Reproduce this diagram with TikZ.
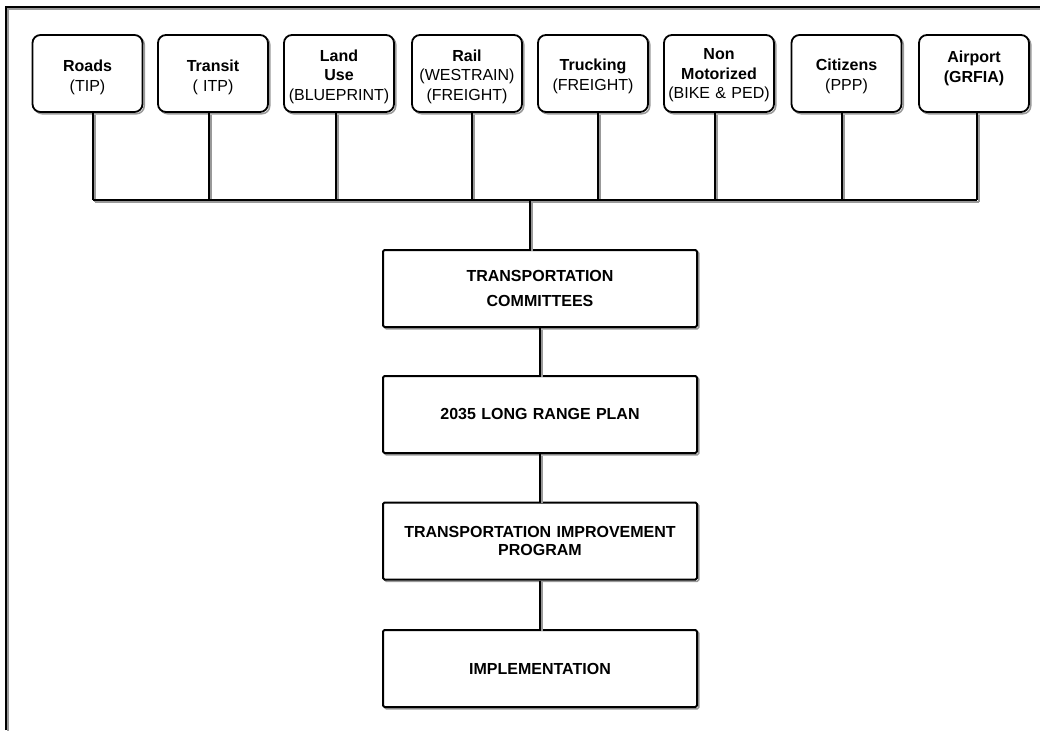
\documentclass[tikz,border=0pt]{standalone}
\usepackage{fontspec}
\setmainfont{Liberation Sans}
% move a centred block vertically without changing its declared size
\newcommand{\shiftlines}[2]{\raisebox{#1}[\height][\depth]{\parbox{108pt}{\centering #2}}}
\begin{document}
\begin{tikzpicture}[x=1pt,y=-1pt,
  shade line/.style={preaction={draw=black!40,line width=1.5pt,
      transform canvas={shift={(1.8pt,-1.8pt)}}}},
  conn/.style={draw=black,line width=1.8pt,shade line},
  source/.style={draw=black,line width=1.8pt,rounded corners=8pt,fill=white,
      minimum width=110pt,minimum height=77pt,inner sep=0pt,text width=108pt,
      align=center,font=\fontsize{16}{19.5}\selectfont,shade line},
  stage/.style={draw=black,line width=2pt,rounded corners=1.5pt,fill=white,
      minimum width=314pt,minimum height=77pt,inner sep=0pt,text width=312pt,
      align=center,font=\bfseries\fontsize{16}{18.5}\selectfont,shade line}
]
\useasboundingbox (0,0) rectangle (1040,730);

% outer frame (left and top edges only)
\coordinate (frameB) at (6,730);
\coordinate (frameC) at (6,7);
\coordinate (frameR) at (1040,7);
\draw[conn] (frameB) -- (frameC) -- (frameR);

% source boxes
\node[source] (roads)    at (87.5,73.5) {\shiftlines{-4pt}{\textbf{Roads}\\(TIP)}};
\node[source] (transit)  at (213,73.5)  {\shiftlines{-4pt}{\textbf{Transit}\\( ITP)}};
\node[source] (landuse)  at (339,73.5)  {\shiftlines{-3pt}{\textbf{Land}\\\textbf{Use}\\(BLUEPRINT)}};
\node[source] (rail)     at (467,73.5)  {\shiftlines{-3pt}{\textbf{Rail}\\(WESTRAIN)\\(FREIGHT)}};
\node[source] (trucking) at (593,73.5)  {\shiftlines{-3pt}{\textbf{Trucking}\\(FREIGHT)}};
\node[source] (nonmotor) at (719,73.5)  {\shiftlines{-2pt}{\textbf{Non}\\\textbf{Motorized}\\(BIKE \& PED)}};
\node[source] (citizens) at (846.5,73.5){\shiftlines{-3pt}{\textbf{Citizens}\\(PPP)}};
\node[source] (airport)  at (974,73.5)  {\shiftlines{5pt}{\textbf{Airport}\\\textbf{(GRFIA)}}};

% planning stages
\node[stage] (committees) at (540,288.5) {TRANSPORTATION\\[6pt]COMMITTEES};
\node[stage] (lrp)        at (540,414.5) {2035 LONG RANGE PLAN};
\node[stage] (tip)        at (540,541)   {TRANSPORTATION IMPROVEMENT\\PROGRAM};
\node[stage] (impl)       at (540,668.5) {IMPLEMENTATION};

% collecting bus
\coordinate (busL) at (93,200);
\coordinate (busR) at (977,200);

\draw[conn] ([xshift=5.5pt]roads.south)    -- ([xshift=5.5pt]roads.south |- busL);
\draw[conn] ([xshift=-4pt]transit.south)   -- ([xshift=-4pt]transit.south |- busL);
\draw[conn] ([xshift=-3pt]landuse.south)   -- ([xshift=-3pt]landuse.south |- busL);
\draw[conn] ([xshift=5pt]rail.south)       -- ([xshift=5pt]rail.south |- busL);
\draw[conn] ([xshift=5pt]trucking.south)   -- ([xshift=5pt]trucking.south |- busL);
\draw[conn] ([xshift=-4pt]nonmotor.south)  -- ([xshift=-4pt]nonmotor.south |- busL);
\draw[conn] ([xshift=-4.5pt]citizens.south)-- ([xshift=-4.5pt]citizens.south |- busL);
\draw[conn] ([xshift=3pt]airport.south)    -- ([xshift=3pt]airport.south |- busL);
\draw[conn] (busL) -- (busR);
\draw[conn] ([xshift=-10pt]committees.north) -- ([xshift=-10pt]committees.north |- busL);

% stage links
\draw[conn] (committees.south) -- (lrp.north);
\draw[conn] (lrp.south) -- (tip.north);
\draw[conn] (tip.south) -- (impl.north);
\end{tikzpicture}
\end{document}
